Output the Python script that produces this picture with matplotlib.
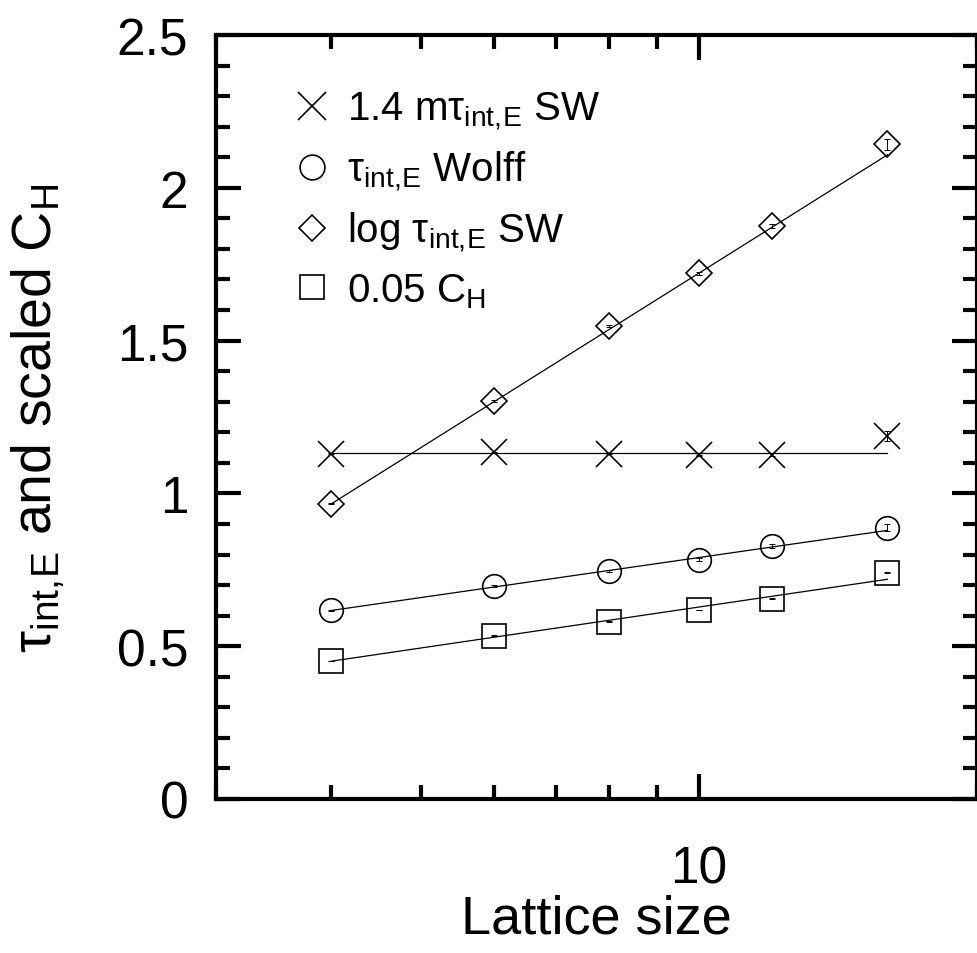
import numpy as np
import matplotlib
matplotlib.use("Agg")
import matplotlib.pyplot as plt
from matplotlib.ticker import MultipleLocator, LogLocator, NullFormatter, FixedLocator, FixedFormatter

plt.rcParams['font.family'] = ['Liberation Sans', 'DejaVu Sans']
plt.rcParams['mathtext.fontset'] = 'custom'
plt.rcParams['mathtext.rm'] = 'Liberation Sans'
plt.rcParams['mathtext.it'] = 'Liberation Sans:italic'

# lattice sizes
L = [4, 6, 8, 10, 12, 16]

# measured values
tau_sw = [1.130, 1.134, 1.130, 1.125, 1.127, 1.188]      # 1.4 m tau_int,E SW
tau_sw_err = [0.002, 0.002, 0.002, 0.002, 0.004, 0.016]
tau_wolff = [0.617, 0.697, 0.746, 0.783, 0.827, 0.888]
tau_wolff_err = [0.002, 0.003, 0.004, 0.005, 0.007, 0.011]
log_tau_sw = [0.966, 1.303, 1.547, 1.720, 1.874, 2.143]
log_tau_sw_err = [0.002, 0.003, 0.004, 0.005, 0.006, 0.018]
c_h = [0.451, 0.535, 0.580, 0.618, 0.656, 0.740]
c_h_err = [0.001, 0.001, 0.001, 0.001, 0.002, 0.002]

# fit line end points
fit_L = [4, 16]
fit_sw = [1.133, 1.133]
fit_wolff = [0.617, 0.879]
fit_log_sw = [0.966, 2.108]
fit_c_h = [0.451, 0.719]

TAU = r'$\mathrm{\tau_{int,\!E}}$'

fig = plt.figure(figsize=(9.78, 9.54), dpi=100)
ax = fig.add_axes([216/978, 1-800/954, (977-216)/978, (800-36)/954])

series = [
    (tau_sw, tau_sw_err, fit_sw, 'x', 19, '1.4 m' + TAU + ' SW'),
    (tau_wolff, tau_wolff_err, fit_wolff, 'o', 17, TAU + ' Wolff'),
    (log_tau_sw, log_tau_sw_err, fit_log_sw, 'D', 13, 'log ' + TAU + ' SW'),
    (c_h, c_h_err, fit_c_h, 's', 17, r'0.05 C$_{\mathrm{H}}$'),
]

for vals, err, fit, mk, ms, lab in series:
    ax.plot(fit_L, fit, color='black', lw=0.9)
    ax.errorbar(L, vals, yerr=err, fmt='none', ecolor='black', elinewidth=0.7, capsize=2, capthick=0.7)
    ax.plot(L, vals, linestyle='none', marker=mk, ms=ms, mfc='none', mec='black', mew=1.2, label=lab)

ax.set_xscale('log')
ax.set_xlim(3, 20)
ax.set_ylim(0, 2.5)

ax.xaxis.set_major_locator(FixedLocator([10]))
ax.xaxis.set_major_formatter(FixedFormatter(['10']))
ax.xaxis.set_minor_locator(LogLocator(base=10, subs=np.arange(2, 10)))
ax.xaxis.set_minor_formatter(NullFormatter())
ax.yaxis.set_minor_locator(MultipleLocator(0.1))
ax.set_yticks([0, 0.5, 1, 1.5, 2, 2.5])
ax.set_yticklabels(['0', '0.5', '1', '1.5', '2', '2.5'])

ax.tick_params(which='both', direction='in', top=True, right=True, width=3)
ax.tick_params(which='major', length=18, labelsize=37)
ax.tick_params(which='minor', length=10)
ax.tick_params(axis='y', pad=20)
ax.tick_params(axis='x', pad=33)
for s in ax.spines.values():
    s.set_linewidth(3)

ax.set_xlabel('Lattice size', fontsize=39, labelpad=0)
ax.set_ylabel(TAU + r' and scaled C$_{\mathrm{H}}$', fontsize=40, labelpad=36)

ax.legend(loc='upper left', frameon=False, fontsize=29, handletextpad=0.25,
          labelspacing=0.42, borderaxespad=0.3, bbox_to_anchor=(0.058, 0.965),
          handlelength=1.2, markerscale=1.05)

fig.savefig('out.png', dpi=100)
